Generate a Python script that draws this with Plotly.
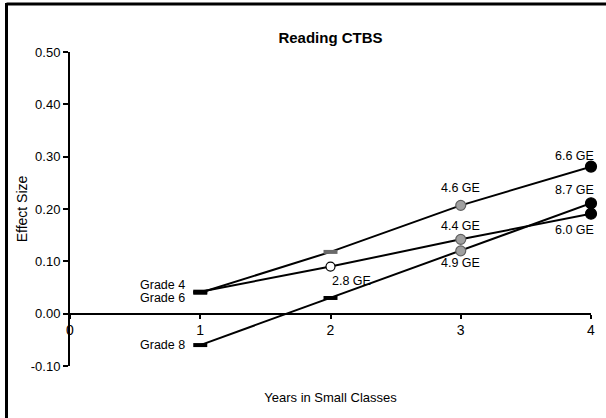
import plotly.graph_objects as go

years = [1, 2, 3, 4]
grade4 = [0.040, 0.118, 0.207, 0.281]
grade6 = [0.042, 0.090, 0.142, 0.191]
grade8 = [-0.060, 0.030, 0.120, 0.211]

series_names = ["Grade 4", "Grade 6", "Grade 8"]
ge_labels4 = ["", "", "4.6 GE", "6.6 GE"]
ge_labels6 = ["", "2.8 GE", "4.4 GE", "6.0 GE"]
ge_labels8 = ["", "", "4.9 GE", "8.7 GE"]

y_tickvals = [-0.10, 0.00, 0.10, 0.20, 0.30, 0.40, 0.50]
y_ticktext = ["-0.10", "0.00", "0.10", "0.20", "0.30", "0.40", "0.50"]
x_tickvals = [0, 1, 2, 3, 4]
x_ticktext = ["0", "1", "2", "3", "4"]

FONT = "Liberation Sans, Arial, sans-serif"
GRAY = "#a0a0a0"
GRAYLINE = "#606060"
DASHGRAY = "#6a6a6a"

fig = go.Figure()

def add_series(y, symbols, colors, lines, sizes):
    fig.add_trace(go.Scatter(
        x=years, y=y, mode="lines+markers",
        line=dict(color="black", width=2),
        marker=dict(symbol=symbols, color=colors, size=sizes, opacity=1,
                    line=dict(color=lines, width=[4 if s == "line-ew" else 1.2 for s in symbols])),
        showlegend=False, hoverinfo="skip", cliponaxis=False,
    ))

add_series(grade4, ["line-ew", "line-ew", "circle", "circle"],
           ["black", DASHGRAY, GRAY, "black"], ["black", DASHGRAY, GRAYLINE, "black"], [10, 10, 10, 11])
add_series(grade6, ["line-ew", "circle", "circle", "circle"],
           ["black", "white", GRAY, "black"], ["black", "black", GRAYLINE, "black"], [10, 9, 10, 11])
add_series(grade8, ["line-ew", "line-ew", "circle", "circle"],
           ["black", "black", GRAY, "black"], ["black", "black", GRAYLINE, "black"], [10, 10, 10, 11])

ann = []
def lab(x, y, text, xs, ys, xanchor="center"):
    ann.append(dict(x=x, y=y, xref="x", yref="y", text=text, showarrow=False,
                    xshift=xs, yshift=ys, xanchor=xanchor, yanchor="middle",
                    font=dict(family=FONT, size=12.5, color="black")))

# GE labels
lab(4, grade4[3], ge_labels4[3], 5, 11, "right")
lab(3, grade4[2], ge_labels4[2], 0, 17)
lab(4, grade8[3], ge_labels8[3], 5, 13, "right")
lab(4, grade6[3], ge_labels6[3], 5, -16, "right")
lab(3, grade6[2], ge_labels6[2], 0, 13)
lab(3, grade8[2], ge_labels8[2], 0, -12)
lab(2, grade6[1], ge_labels6[1], -1, -14, "left")
# Series names
lab(1, grade4[0], series_names[0], -13, 8, "right")
lab(1, grade6[0], series_names[1], -13, -6, "right")
lab(1, grade8[0], series_names[2], -13, 0, "right")

fig.update_layout(
    width=606, height=418,
    margin=dict(l=70, r=15, t=52, b=52),
    paper_bgcolor="white", plot_bgcolor="white",
    font=dict(family=FONT, size=12, color="black"),
    title=dict(text="<b>Reading CTBS</b>", x=0.5, xref="paper", y=1 - 38 / 418,
               yanchor="middle", xanchor="center",
               font=dict(family=FONT, size=15, color="black")),
    annotations=ann,
    xaxis=dict(range=[0, 4], tickvals=x_tickvals, ticktext=x_ticktext,
               showgrid=False, zeroline=False, showline=True, linecolor="black", linewidth=2,
               ticks="outside", ticklen=4, tickwidth=2, tickcolor="black",
               anchor="free", position=(0 - (-0.1)) / 0.6, automargin=False,
               tickfont=dict(family=FONT, size=14),
               title=dict(text="Years in Small Classes", standoff=54,
                          font=dict(family=FONT, size=13))),
    yaxis=dict(range=[-0.1, 0.5], tickvals=y_tickvals, ticktext=y_ticktext,
               showgrid=False, zeroline=False, showline=True, linecolor="black", linewidth=2,
               ticks="outside", ticklen=5, tickwidth=2, tickcolor="black", automargin=False,
               tickfont=dict(family=FONT, size=13),
               title=dict(text="Effect Size", standoff=0,
                          font=dict(family=FONT, size=14))),
    shapes=[
        dict(type="line", xref="paper", yref="paper",
             x0=(6.5 - 70) / 521, x1=(606 - 70) / 521,
             y0=1 + (52 - 4) / 314, y1=1 + (52 - 4) / 314,
             line=dict(color="black", width=3)),
        dict(type="line", xref="paper", yref="paper",
             x0=(6.5 - 70) / 521, x1=(6.5 - 70) / 521,
             y0=1 + (52 - 3) / 314, y1=(366 - 420) / 314,
             line=dict(color="black", width=3)),
    ],
)

fig.write_html("out.html", config={"displayModeBar": False},
               post_script="document.body.style.margin='0';document.body.style.overflow='hidden';")
